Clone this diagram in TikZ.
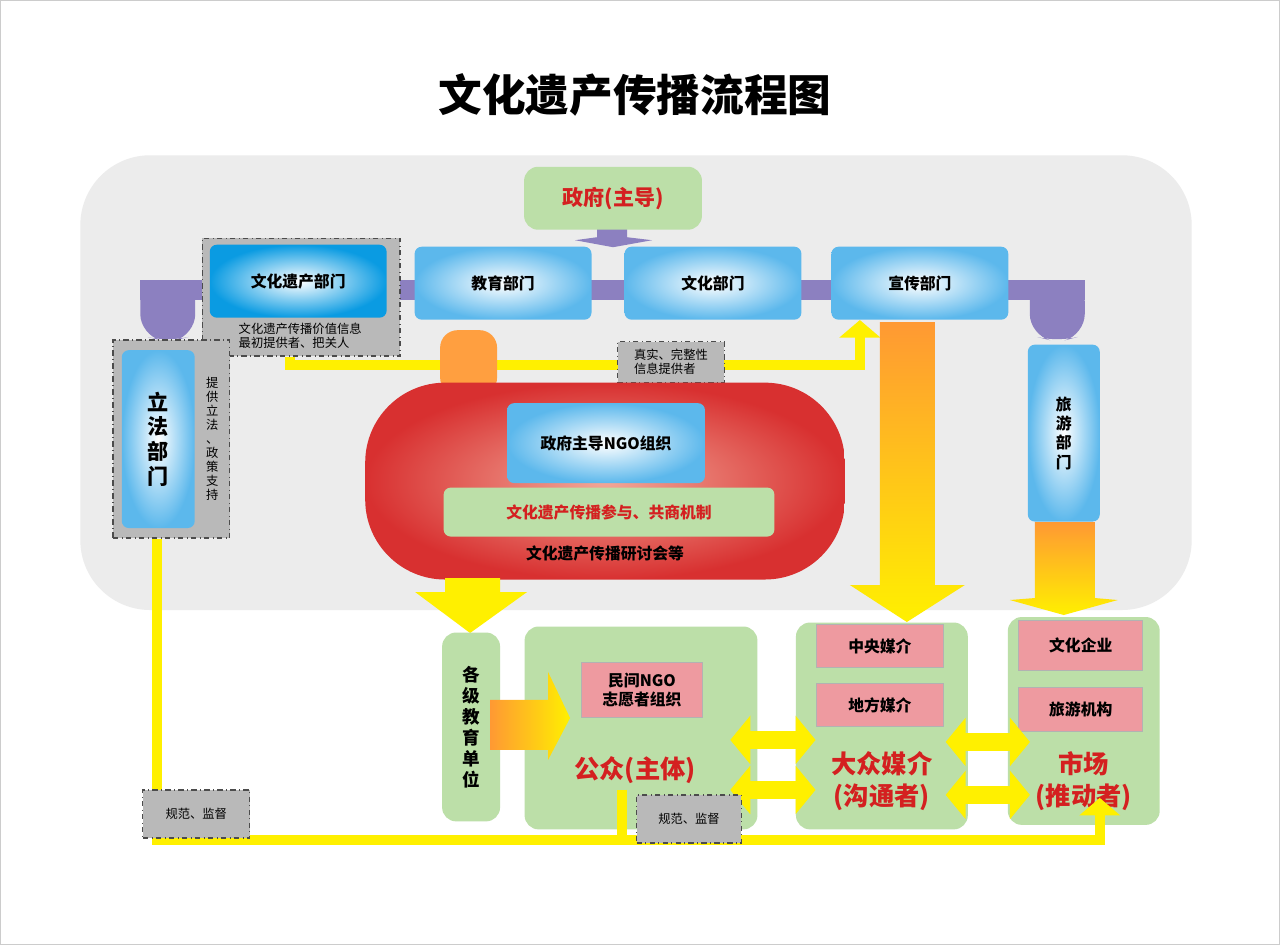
\documentclass[tikz,border=0pt]{standalone}
\usepackage{fontspec}
\setmainfont{Noto Sans CJK SC}
\usetikzlibrary{calc,shapes,arrows.meta}
\definecolor{pipe}{HTML}{8C80C0}
\definecolor{skyedge}{HTML}{5CB8EC}
\definecolor{deepsky}{HTML}{0A9BE2}
\definecolor{leaf}{HTML}{BCDFA8}
\definecolor{pinkbox}{HTML}{EE9AA0}
\definecolor{ylw}{HTML}{FFF000}
\definecolor{darkred}{HTML}{D42020}
\definecolor{blockred}{HTML}{D83030}
\definecolor{blockpink}{HTML}{F2A898}
\tikzset{
  dept/.style={rounded corners=4pt, inner color=white, outer color=skyedge, font=\bfseries\small, align=center},
  leafbox/.style={rounded corners=8pt, fill=leaf},
  pinkie/.style={draw=gray!60, fill=pinkbox, font=\bfseries\small, align=center},
  notebox/.style={draw=black!70, dash dot, fill=gray!55, thick},
  notetext/.style={font=\scriptsize, align=left, inner sep=1pt},
  yline/.style={draw=ylw, line width=0.2cm},
  redtxt/.style={text=darkred, font=\bfseries\Large, align=center}
}
\begin{document}
\begin{tikzpicture}[x=0.02cm,y=-0.02cm]
  %% frame and title
  \draw[gray!40, fill=white] (0,0) rectangle (1280,945);
  \node[font=\bfseries\Huge] (title) at (635,95) {文化遗产传播流程图};
  \fill[gray!15, rounded corners=1.4cm] (80,155) rectangle (1192,610);

  %% purple pipes
  \fill[pipe] (140,280) rectangle (1085,300);
  \fill[pipe, rounded corners=12pt] (140,280) -- (195,280) -- (195,335) -- (168,342) -- (140,335) -- cycle;
  \fill[pipe, rounded corners=12pt] (1030,280) -- (1085,280) -- (1085,335) -- (1058,342) -- (1030,335) -- cycle;
  \fill[pipe] (597,222) -- (627,222) -- (627,237) -- (652,240) -- (613,247) -- (575,240) -- (597,237) -- cycle;

  %% government and departments
  \node[leafbox, minimum width=3.56cm, minimum height=1.26cm, text=darkred, font=\bfseries\large] (gov) at (613,198) {政府(主导)};
  \node[notebox, minimum width=3.96cm, minimum height=2.36cm] (whnote) at (301,297) {};
  \node[notetext] (whnotetxt) at (300,336) {文化遗产传播价值信息\\最初提供者、把关人};
  \node[dept, outer color=deepsky, minimum width=3.54cm, minimum height=1.46cm] (wh) at (298,281) {文化遗产部门};
  \node[dept, minimum width=3.54cm, minimum height=1.46cm] (jy) at (503,283) {教育部门};
  \node[dept, minimum width=3.54cm, minimum height=1.46cm] (wb) at (713,283) {文化部门};
  \node[dept, minimum width=3.54cm, minimum height=1.46cm] (xc) at (920,283) {宣传部门};

  %% legislation
  \node[notebox, minimum width=2.34cm, minimum height=3.96cm] (lfnote) at (171,439) {};
  \node[dept, minimum width=1.46cm, minimum height=3.56cm, font=\bfseries\large] (lf) at (158,439) {立\\法\\部\\门};
  \node[notetext, align=center] (lfnotetxt) at (212,439) {提\\供\\立\\法\\、\\政\\策\\支\\持};
  \node[dept, minimum width=1.44cm, minimum height=3.54cm] (ly) at (1064,433) {旅\\游\\部\\门};

  %% yellow information line
  \draw[yline, -{Triangle[width=0.8cm,length=0.35cm]}] (whnote.south -| 290,0) |- (860,365) -- (xc.south -| 860,0);
  \node[notebox, minimum width=2.14cm, minimum height=0.82cm] (zs) at (671,362) {};
  \node[notetext] (zstxt) at (zs) {真实、完整性\\信息提供者};

  %% NGO block
  \fill[orange!75, rounded corners=10pt] (440,395) -- (440,330) -- (497,330) -- (497,395) -- cycle;
  \node[rounded corners=1.6cm, shading=radial, inner color=blockpink, outer color=blockred, minimum width=9.6cm, minimum height=3.94cm] (ngoblock) at (605,481) {};
  \node[dept, minimum width=3.96cm, minimum height=1.6cm] (ngo) at (606,443) {政府主导NGO组织};
  \node[leafbox, rounded corners=4pt, minimum width=6.62cm, minimum height=0.98cm, text=darkred, font=\bfseries\small] (band) at (609,512) {文化遗产传播参与、共商机制};
  \node[font=\bfseries\small] (seminar) at (605,553) {文化遗产传播研讨会等};

  %% big arrows
  \fill[ylw] (445,578) -- (500,578) -- (500,592) -- (527,592) -- (470,633) -- (415,592) -- (445,592) -- cycle;
  \shade[top color=orange!80, bottom color=ylw] (880,322) -- (935,322) -- (935,585) -- (965,585) -- (907,622) -- (850,585) -- (880,585) -- cycle;
  \shade[top color=orange!80, bottom color=ylw] (1035,522) -- (1095,522) -- (1095,598) -- (1118,600) -- (1064,615) -- (1010,600) -- (1035,598) -- cycle;

  %% lower boxes
  \node[leafbox, minimum width=1.16cm, minimum height=3.78cm, font=\bfseries\normalsize, align=center] (jydw) at (471,727) {各\\级\\教\\育\\单\\位};
  \node[leafbox, minimum width=4.66cm, minimum height=4.06cm] (gz) at (641,728) {};
  \node[leafbox, minimum width=3.44cm, minimum height=4.14cm] (mj) at (882,726) {};
  \node[leafbox, minimum width=3.04cm, minimum height=4.16cm] (sc) at (1084,721) {};
  \node[pinkie, minimum width=2.42cm, minimum height=1.1cm] (mngo) at (642,690) {民间NGO\\志愿者组织};
  \node[pinkie, minimum width=2.56cm, minimum height=0.86cm] (zy) at (880,646) {中央媒介};
  \node[pinkie, minimum width=2.56cm, minimum height=0.86cm] (df) at (880,705) {地方媒介};
  \node[pinkie, minimum width=2.48cm, minimum height=1.0cm] (qy) at (1081,645) {文化企业};
  \node[pinkie, minimum width=2.48cm, minimum height=0.88cm] (jg) at (1081,709) {旅游机构};
  \node[redtxt] (gztxt) at (635,770) {公众(主体)};
  \node[redtxt] (mjtxt) at (882,781) {大众媒介\\(沟通者)};
  \node[redtxt] (sctxt) at (1084,781) {市场\\(推动者)};
  \shade[left color=orange!80, right color=ylw] (490,700) -- (548,700) -- (548,672) -- (570,718) -- (548,760) -- (548,750) -- (490,750) -- cycle;

  %% exchange arrows
  \foreach \y in {740,790}
    \draw[draw=ylw, line width=0.36cm, {Triangle[width=0.95cm,length=0.4cm]}-{Triangle[width=0.95cm,length=0.4cm]}, shorten <=-0.55cm, shorten >=-0.4cm] (gz.east |- 0,\y) -- (mj.west |- 0,\y);
  \foreach \y in {742,795}
    \draw[draw=ylw, line width=0.36cm, {Triangle[width=0.95cm,length=0.4cm]}-{Triangle[width=0.95cm,length=0.4cm]}, shorten <=-0.45cm, shorten >=-0.45cm] (mj.east |- 0,\y) -- (sc.west |- 0,\y);

  %% supervision lines
  \coordinate (scin) at (1100,798);
  \draw[yline, -{Triangle[width=0.8cm,length=0.35cm]}] (lfnote.south -| 157,0) -- (157,840) -- (1100,840) -- (scin);
  \draw[yline] (gztxt.south -| 622,0) -- (622,840);
  \node[notebox, minimum width=2.14cm, minimum height=0.96cm] (gf1) at (196,814) {};
  \node[notetext] (gf1txt) at (gf1) {规范、监督};
  \node[notebox, minimum width=2.1cm, minimum height=0.96cm] (gf2) at (689,819) {};
  \node[notetext] (gf2txt) at (gf2) {规范、监督};
\end{tikzpicture}
\end{document}
